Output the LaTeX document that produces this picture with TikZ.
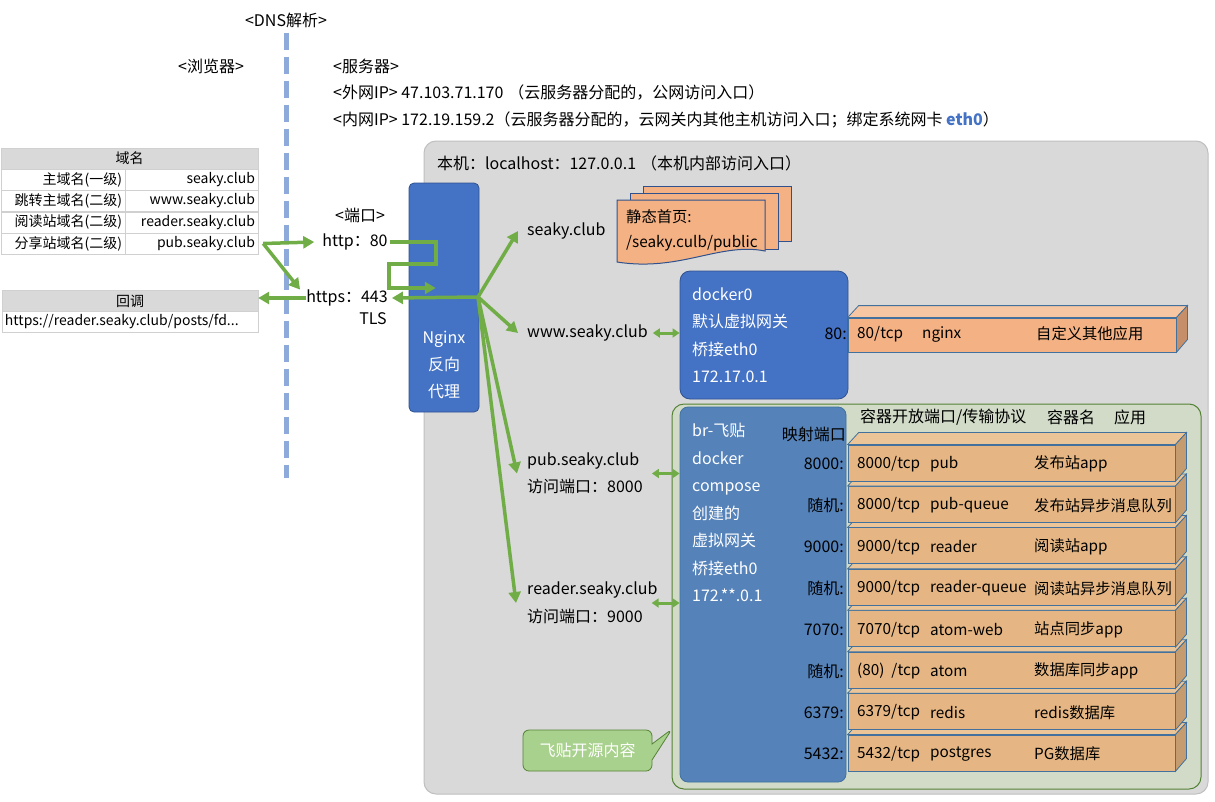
\documentclass[tikz,border=0pt]{standalone}
\usepackage{fontspec}
\setmainfont{Noto Sans CJK SC}
\usetikzlibrary{positioning}
\usetikzlibrary{arrows.meta, shapes.callouts}
\definecolor{nginxblue}{HTML}{4472C4}
\definecolor{bluedark}{HTML}{2F528F}
\definecolor{brblue}{RGB}{85,130,185}
\definecolor{brline}{HTML}{41719C}
\definecolor{agreen}{HTML}{70AD47}
\definecolor{dgreen}{HTML}{548235}
\definecolor{hostgray}{HTML}{D9D9D9}
\definecolor{hostline}{HTML}{BFBFBF}
\definecolor{groupfill}{RGB}{209,219,200}
\definecolor{dnsblue}{HTML}{8EAADB}
\definecolor{cellline}{HTML}{D0D0D0}
\definecolor{docorange}{HTML}{F4B183}
\definecolor{doctop}{RGB}{247,198,163}
\definecolor{docside}{RGB}{198,143,106}
\definecolor{tanfront}{RGB}{229,182,131}
\definecolor{tantop}{RGB}{235,197,152}
\definecolor{tanside}{RGB}{196,156,112}
\definecolor{notegreen}{HTML}{A9D18E}

\begin{document}
\begin{tikzpicture}[x=1pt, y=-1pt,
		every node/.style={font=\fontsize{16}{19}\selectfont, inner sep=0pt},
		txt/.style={anchor=west},
		small/.style={font=\fontsize{15.3}{19}\selectfont},
		lines/.style={align=left, font=\fontsize{16}{27.5}\selectfont},
		cell/.style={draw=cellline, minimum height=21, inner sep=3pt, font=\fontsize{14}{16}\selectfont},
		garrow/.style={draw=agreen, line width=3.5pt, -{Triangle[length=11pt, width=12pt]}},
		darrow/.style={draw=agreen, line width=3pt, {Triangle[length=7pt, width=9pt]}-{Triangle[length=7pt, width=9pt]}},
		bluebox/.style={fill=nginxblue, draw=bluedark, line width=0.8pt},
		docpage/.style={fill=docorange, draw=bluedark, line width=1pt},
		cubefront/.style={draw=brline, line width=0.8pt, fill=tanfront},
		cubetop/.style={draw=brline, line width=0.8pt, fill=tantop},
		cubeside/.style={draw=brline, line width=0.8pt, fill=tanside}
	]
	\useasboundingbox (0,0) rectangle (1215,801);
	
	% dns
	\node (dns) at (286,20) {<DNS解析>};
	\coordinate (dnsend) at (286,478);
	\draw[dnsblue, line width=5pt, dash pattern=on 17pt off 7pt] ([yshift=-5pt]dns.south) -- (dnsend);
	
	\node[txt] (browser) at (178,66) {<浏览器>};
	\node[txt] (server) at (333,66) {<服务器>};
	\node[txt] (wan) at (333,93) {<外网IP> 47.103.71.170\hspace{5pt}（云服务器分配的，公网访问入口）};
	\node[txt] (lan) at (333,120) {<内网IP> 172.19.159.2（云服务器分配的，云网关内其他主机访问入口；绑定系统网卡 \textcolor{nginxblue}{\bfseries eth0}）};
	
	% host
	\node[fill=hostgray, draw=hostline, line width=1pt, rounded corners=12pt, minimum width=784, minimum height=653] (host) at (816,467.5) {};
	\node[txt] (localhost) at (437,163) {本机：localhost：127.0.0.1\hspace{5pt}（本机内部访问入口）};
	
	% domains
	\node[cell, fill=hostgray, minimum width=257] (dhead) at (129.5,158.5) {域名};
	\foreach \l/\r [count=\i] in {主域名(一级)/seaky.club, 跳转主域名(二级)/www.seaky.club, 阅读站域名(二级)/reader.seaky.club, 分享站域名(二级)/pub.seaky.club}{
		\node[cell, text width=118, align=right] (dl\i) at (63,158.5+21.25*\i) {\l};
		\node[cell, text width=127, align=right] (dr\i) at (191.5,158.5+21.25*\i) {\r};
	}
	
	% callback
	\node[cell, fill=hostgray, minimum width=256] (cbhead) at (130,301) {回调};
	\node[cell, text width=250, align=left] (cburl) at (130,321.5) {https://reader.seaky.club/posts/fd...};
	
	% ports
	\node (portlbl) at (360,215) {<端口>};
	\node (http) at (355,242) {http：80};
	\node (https) at (347,298) {https：443};
	\node (tls) at (373,319) {TLS};
	
	% nginx
	\node[bluebox, rounded corners=5pt, minimum width=70, minimum height=229,
		label={[text=white, align=center, anchor=center, yshift=-67.5pt, font=\fontsize{16}{27}\selectfont]center:Nginx\\反向\\代理}] (nginx) at (444,297.5) {};
	\coordinate (fan) at (478,297);
	
	\coordinate (split) at ([xshift=5pt]dr4.east);
	\draw[garrow] (split) -- ([xshift=-8pt]http.west);
	\draw[garrow] (split) -- ([xshift=-6pt]https.north west);
	\draw[garrow] (https.west) -- (https.west -| cbhead.east);
	\draw[garrow] ([xshift=2pt]http.east) -- ++(46,0) -- ++(0,22) -- ++(-47,0) -- ++(0,24) -- ++(47,0);
	\draw[garrow] (fan) -- ([xshift=4pt]https.east);
	
	% sites
	\node[txt] (seaky) at (527,231) {seaky.club};
	\node[txt] (www) at (527,333) {www.seaky.club};
	\node[txt, lines] (pub) at (527,473.5) {pub.seaky.club\\访问端口：8000};
	\node[txt, lines] (reader) at (527,603) {reader.seaky.club\\访问端口：9000};
	
	\draw[garrow] (fan) -- ([xshift=-9pt]seaky.west);
	\draw[garrow] (fan) -- ([xshift=-9pt]www.west);
	\draw[garrow] (fan) -- ([xshift=-10pt]pub.west);
	\draw[garrow] (fan) -- ([xshift=-11pt]reader.west);
	
	% static pages
	\draw[docpage] (643,186) rectangle (791,241);
	\draw[docpage] (630,193) rectangle (778,249);
	\draw[docpage] (617,200) -- (765,200) -- (765,251) .. controls (720,242) and (680,272) .. (617,262) -- cycle;
	\node[txt, small] (static) at (626,217) {静态首页:};
	\node[txt, small] (staticpath) at (626,243) {/seaky.culb/public};
	
	% docker0
	\node[bluebox, rounded corners=10pt, minimum width=168, minimum height=128] (docker0) at (764,335) {};
	\node[txt, lines, text=white] (docker0txt) at (692,335) {docker0\\默认虚拟网关\\桥接eth0\\172.17.0.1};
	\draw[darrow] ([xshift=5pt]www.east) -- (www.east -| docker0.west);
	
	\node[anchor=east] (p80) at (847,334) {80:};
	\node[cubefront, fill=docorange, minimum width=328, minimum height=34] (nginxapp) at (1012,335) {};
	\draw[cubetop, fill=doctop] (nginxapp.north west) -- ++(11,-12) -- ([shift={(11,-12)}]nginxapp.north east) -- (nginxapp.north east) -- cycle;
	\draw[cubeside, fill=docside] (nginxapp.north east) -- ++(11,-12) -- ++(0,34) -- (nginxapp.south east) -- cycle;
	\node[txt, small] (nginxport) at (857,334) {80/tcp};
	\node[txt, small] (nginxname) at (922,334) {nginx};
	\node[txt, small] (nginxuse) at (1036,334) {自定义其他应用};
	
	% feitie
	\node[fill=groupfill, draw=dgreen, line width=1pt, rounded corners=12pt, minimum width=529, minimum height=385] (brgroup) at (936.5,596.5) {};
	\node[fill=brblue, draw=brline, line width=0.8pt, rounded corners=8pt, minimum width=166, minimum height=375] (brbox) at (763,594.5) {};
	\node[anchor=north west, lines, text=white] (brtxt) at (692,423) {br-飞贴\\docker\\compose\\创建的\\虚拟网关\\桥接eth0\\172.**.0.1};
	\node[anchor=east] (mapport) at (846,434) {映射端口};
	\node[txt] (hport) at (860,417) {容器开放端口/传输协议};
	\node[txt] (hname) at (1047,417) {容器名};
	\node[txt] (happ) at (1114,417) {应用};
	
	\draw[darrow] ([xshift=9pt]pub.east) -- (pub.east -| brbox.west);
	\draw[darrow] ([xshift=-6pt]reader.east) -- (reader.east -| brbox.west);
	
	% containers, bottom row first
	\foreach \p/\c/\n/\a [count=\i] in {5432:/5432/postgres/PG数据库, 6379:/6379/redis/redis数据库, 随机:/{(80)\ \ }/atom/数据库同步app, 7070:/7070/atom-web/站点同步app, 随机:/9000/reader-queue/阅读站异步消息队列, 9000:/9000/reader/阅读站app, 随机:/8000/pub-queue/发布站异步消息队列, 8000:/8000/pub/发布站app}{
		\pgfmathsetmacro{\y}{753-41.43*(\i-1)}
		\node[cubefront, minimum width=327, minimum height=36] (row\i) at (1011.5,\y) {};
		\draw[cubetop] (row\i.north west) -- ++(11,-12) -- ([shift={(11,-12)}]row\i.north east) -- (row\i.north east) -- cycle;
		\draw[cubeside] (row\i.north east) -- ++(11,-12) -- ++(0,36) -- (row\i.south east) -- cycle;
		\node[anchor=east] (rp\i) at (844,\y+1) {\p};
		\node[txt, small] (rc\i) at (857,\y+1) {\c/tcp};
		\node[txt, small] (rn\i) at (930,\y+1) {\n};
		\node[txt, small] (ra\i) at (1034,\y+1) {\a};
	}
	
	\node[rectangle callout, fill=notegreen, draw=dgreen, line width=0.8pt, rounded corners=6pt, text=white, minimum width=129, minimum height=41, callout absolute pointer={(672,729)}, callout pointer width=16pt] (note) at (587.5,750.5) {飞贴开源内容};
\end{tikzpicture}
\end{document}
